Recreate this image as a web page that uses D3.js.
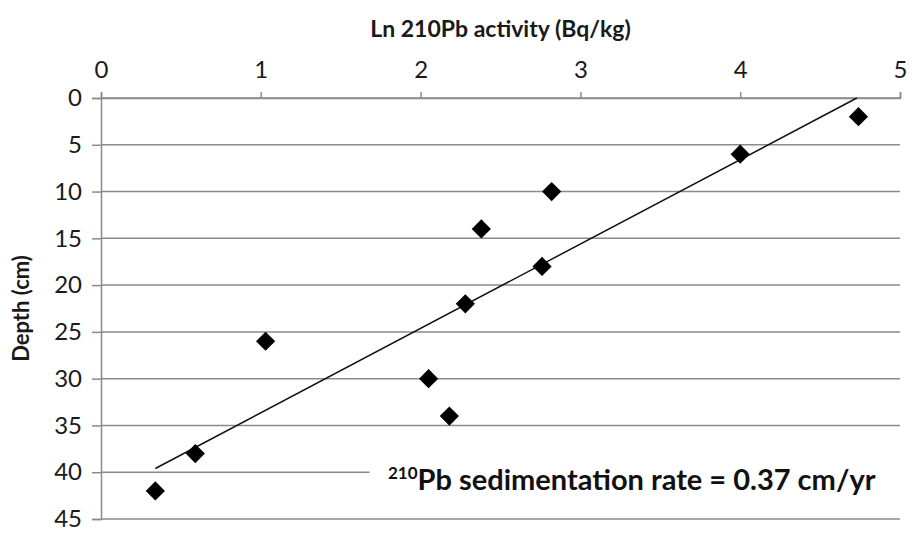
<!DOCTYPE html>
<html>
<head>
<meta charset="utf-8">
<script src="https://cdn.jsdelivr.net/npm/d3@7"></script>
<style>
  body { margin: 0; background: #fff; }
  svg { display: block; font-family: Lato, "Open Sans", sans-serif; }
</style>
</head>
<body>
<svg width="912" height="533"></svg>
<script>
// data
const depths = [2, 6, 10, 14, 18, 22, 26, 30, 34, 38, 42];
const lnActivity = [4.74, 4.0, 2.82, 2.38, 2.76, 2.28, 1.03, 2.05, 2.18, 0.59, 0.34];
const xTicks = [0, 1, 2, 3, 4, 5];
const yTicks = [0, 5, 10, 15, 20, 25, 30, 35, 40, 45];
// trendline ends (ln activity, depth)
const trendX = [0.34, 4.73];
const trendY = [39.6, 0];

const svg = d3.select("svg");
const margin = { top: 98, right: 12, bottom: 14, left: 101 };
const width = +svg.attr("width");
const height = +svg.attr("height");
const graphWidth = width - margin.left - margin.right;
const graphHeight = height - margin.top - margin.bottom;

const xScale = d3.scaleLinear().domain([0, 5]).range([0, graphWidth]);
const yScale = d3.scaleLinear().domain([0, 45]).range([0, graphHeight]);

const graph = svg.append("g")
  .attr("transform", `translate(${margin.left}, ${margin.top})`);

const gridColor = "#8a8a8a";

// horizontal gridlines
graph.append("g")
  .selectAll("line")
  .data(yTicks)
  .enter()
  .append("line")
  .attr("x1", 0)
  .attr("x2", graphWidth)
  .attr("y1", d => yScale(d))
  .attr("y2", d => yScale(d))
  .attr("stroke", gridColor)
  .attr("stroke-width", 1.5);

// top axis
const xAxisG = graph.append("g")
  .call(d3.axisTop(xScale).tickValues(xTicks).tickSize(6).tickPadding(14).tickFormat(d3.format("d")));
xAxisG.select(".domain").attr("stroke", gridColor).attr("stroke-width", 1.5);
xAxisG.selectAll(".tick line").attr("stroke", gridColor).attr("stroke-width", 1.5);
xAxisG.selectAll(".tick text")
  .attr("font-size", 24)
  .attr("fill", "#1a1a1a")
  .attr("font-family", "Lato, sans-serif");

// left axis
const yAxisG = graph.append("g")
  .call(d3.axisLeft(yScale).tickValues(yTicks).tickSize(9).tickPadding(10).tickFormat(d3.format("d")));
yAxisG.select(".domain").attr("stroke", gridColor).attr("stroke-width", 1.5);
yAxisG.selectAll(".tick line").attr("stroke", gridColor).attr("stroke-width", 1.5);
yAxisG.selectAll(".tick text")
  .attr("font-size", 24)
  .attr("fill", "#1a1a1a")
  .attr("font-family", "Lato, sans-serif");

// annotation box hides the gridline behind the text
graph.append("rect")
  .attr("x", xScale(1.68))
  .attr("y", yScale(36.9))
  .attr("width", xScale(5) - xScale(1.68) + 8)
  .attr("height", yScale(43.2) - yScale(36.9))
  .attr("fill", "#fff");

// trendline
graph.append("line")
  .attr("x1", xScale(trendX[0]))
  .attr("y1", yScale(trendY[0]))
  .attr("x2", xScale(trendX[1]))
  .attr("y2", yScale(trendY[1]))
  .attr("stroke", "#111")
  .attr("stroke-width", 1.5);

// diamonds
const diamond = d3.symbol().type(d3.symbolSquare).size(185);
graph.selectAll("path.pt")
  .data(depths)
  .enter()
  .append("path")
  .attr("class", "pt")
  .attr("d", diamond)
  .attr("fill", "#000")
  .attr("transform", (d, i) => `translate(${xScale(lnActivity[i])}, ${yScale(d)}) rotate(45)`);

// titles
svg.append("text")
  .attr("x", margin.left + graphWidth / 2)
  .attr("y", 37)
  .attr("text-anchor", "middle")
  .attr("font-size", 23)
  .attr("font-weight", "bold")
  .attr("fill", "#1a1a1a")
  .text("Ln 210Pb activity (Bq/kg)");

svg.append("text")
  .attr("transform", `translate(29, ${margin.top + graphHeight / 2}) rotate(-90)`)
  .attr("text-anchor", "middle")
  .attr("font-size", 22)
  .attr("font-weight", "bold")
  .attr("fill", "#1a1a1a")
  .text("Depth (cm)");

const note = svg.append("text")
  .attr("x", 388)
  .attr("y", 490)
  .attr("font-size", 29)
  .attr("font-weight", "bold")
  .attr("fill", "#111");
note.append("tspan")
  .attr("font-size", 17)
  .attr("dy", -11)
  .text("210");
note.append("tspan")
  .attr("dy", 11)
  .text("Pb sedimentation rate = 0.37 cm/yr");
</script>
</body>
</html>
